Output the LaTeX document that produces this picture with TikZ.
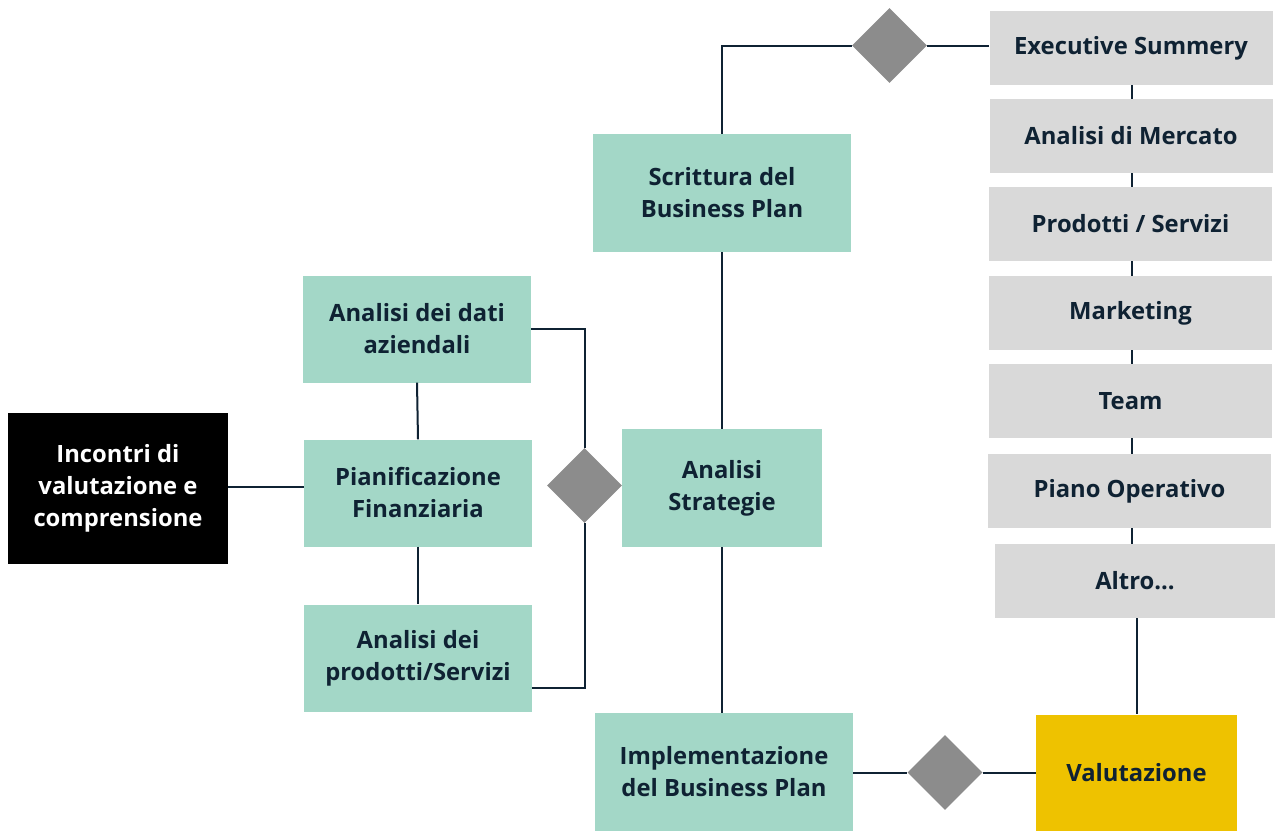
\documentclass[tikz,border=0pt]{standalone}
\usepackage{fontspec}
\setmainfont{Open Sans}
\usetikzlibrary{shapes.geometric}

\definecolor{verde}{HTML}{A3D7C7}
\definecolor{grigio}{HTML}{D9D9D9}
\definecolor{rombogrigio}{HTML}{8C8C8C}
\definecolor{giallo}{HTML}{EEC200}
\definecolor{blu}{HTML}{0F2233}

\tikzset{
  scatola/.style={rectangle, inner sep=0pt, align=center, text=blu,
    font=\fontsize{23.8}{32}\selectfont\bfseries},
  verdebox/.style={scatola, fill=verde, minimum width=228pt, minimum height=107pt},
  grigiobox/.style={scatola, fill=grigio, minimum width=283pt, minimum height=74pt},
  rombo/.style={diamond, fill=rombogrigio, inner sep=0pt, minimum width=75pt, minimum height=75pt},
  linea/.style={draw=blu, line width=2pt}
}

\begin{document}
\begin{tikzpicture}[x=1pt,y=-1pt]
	\useasboundingbox (0,0) rectangle (1276,830);
	% colonna sinistra
	\node[scatola, fill=black, text=white, minimum width=220pt, minimum height=151pt] (incontri) at (118,488) {Incontri di\\valutazione e\\comprensione};
	\node[verdebox] (datiaz) at (417,329) {Analisi dei dati\\aziendali};
	\node[verdebox] (pianif) at (418,493) {Pianificazione\\Finanziaria};
	\node[verdebox] (prodserv) at (418,658) {Analisi dei\\prodotti/Servizi};
	\node[rombo] (romboA) at (584.5,485.5) {};
	% colonna centrale
	\node[verdebox, minimum width=200pt, minimum height=118pt] (strategie) at (722,488) {Analisi\\Strategie};
	\node[verdebox, minimum width=258pt, minimum height=118pt] (scrittura) at (722,193) {Scrittura del\\Business Plan};
	\node[verdebox, minimum width=258pt, minimum height=118pt] (implem) at (724,772) {Implementazione\\del Business Plan};
	\node[rombo] (romboB) at (889.5,45.5) {};
	\node[rombo] (romboC) at (945,772.5) {};
	% colonna destra
	\node[grigiobox] (g1) at (1131,48) {Executive Summery};
	\node[grigiobox] (g2) at (1131,136) {Analisi di Mercato};
	\node[grigiobox] (g3) at (1130.5,224) {Prodotti / Servizi};
	\node[grigiobox] (g4) at (1130.5,313) {Marketing};
	\node[grigiobox] (g5) at (1130.5,401) {Team};
	\node[grigiobox] (g6) at (1129.5,491) {Piano Operativo};
	\node[grigiobox, minimum width=280pt] (g7) at (1135,581) {Altro...};
	\node[scatola, fill=giallo, minimum width=201pt, minimum height=117pt] (valut) at (1136.5,773) {Valutazione};
	% collegamenti
	\draw[linea] (incontri.east |- 0,487) -- (pianif.west |- 0,487);
	\draw[linea] (datiaz.south) -- (pianif.north);
	\draw[linea] (pianif.south) -- (prodserv.north);
	\draw[linea] (datiaz.east) -| (romboA.north);
	\draw[linea] (prodserv.east |- 0,688) -| (romboA.south);
	\draw[linea] (scrittura.south) -- (strategie.north);
	\draw[linea] (strategie.south) -- (implem.north -| strategie.south);
	\draw[linea] (scrittura.north) |- (romboB.west);
	\draw[linea] (romboB.east) -- (g1.west |- romboB.east);
	\foreach \a/\b in {g1/g2, g2/g3, g3/g4, g4/g5, g5/g6, g6/g7}
		\draw[linea] (\a.south -| 1132,0) -- (\b.north -| 1132,0);
	\draw[linea] (g7.south -| valut.north) -- (valut.north);
	\draw[linea] (implem.east |- romboC.west) -- (romboC.west);
	\draw[linea] (romboC.east) -- (valut.west |- romboC.east);
\end{tikzpicture}
\end{document}
